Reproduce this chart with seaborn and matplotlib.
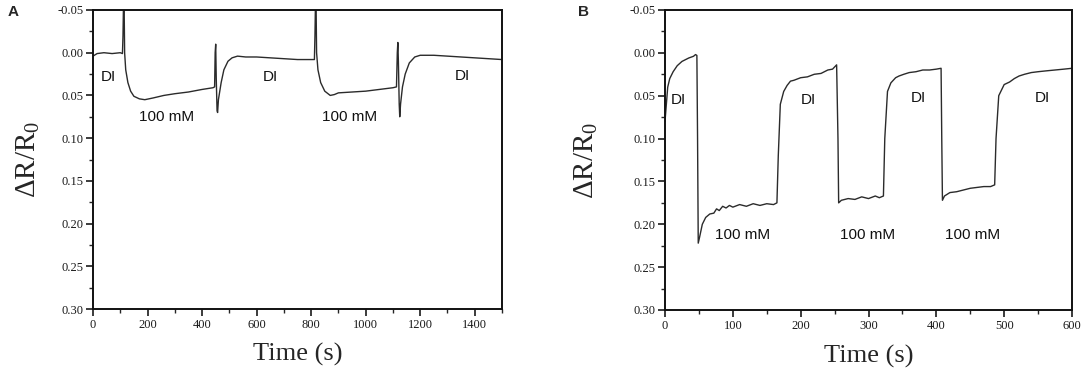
import numpy as np
import pandas as pd
import matplotlib
matplotlib.use("Agg")
import matplotlib.pyplot as plt
from matplotlib.ticker import MultipleLocator, FormatStrFormatter
import seaborn as sns

# ---------------- data ----------------
time_a = [0, 5, 15, 40, 70, 100, 108, 110, 112, 114, 116, 120, 128, 138, 150, 170, 190, 220,
          260, 300, 350, 400, 440, 446, 448, 450, 452, 455, 457, 460, 470, 480, 495, 510,
          530, 560, 600, 650, 700, 750, 800, 812, 814, 816, 818, 820, 825, 835, 850, 870,
          885, 900, 950, 1000, 1050, 1100, 1113, 1116, 1118, 1120, 1123, 1125, 1128, 1135,
          1145, 1160, 1180, 1200, 1250, 1300, 1350, 1400, 1450, 1500]
resp_a = [0.004, 0.003, 0.001, 0.000, 0.001, 0.000, 0.001, -0.020, -0.060, -0.060, 0.000,
          0.020, 0.035, 0.045, 0.051, 0.054, 0.055, 0.053, 0.050, 0.048, 0.046, 0.043, 0.041,
          0.040, 0.000, -0.010, 0.030, 0.068, 0.070, 0.055, 0.035, 0.020, 0.010, 0.006,
          0.004, 0.005, 0.005, 0.006, 0.007, 0.008, 0.008, 0.008, -0.020, -0.060, -0.060,
          0.000, 0.020, 0.035, 0.045, 0.050, 0.049, 0.047, 0.046, 0.045, 0.043, 0.041,
          0.040, 0.000, -0.012, 0.010, 0.060, 0.075, 0.060, 0.040, 0.025, 0.012, 0.005,
          0.003, 0.003, 0.004, 0.005, 0.006, 0.007, 0.008]

time_b = [0, 2, 4, 7, 12, 18, 25, 35, 42, 45, 47, 48, 49, 51, 55, 60, 66, 72, 76, 80, 85,
          90, 95, 100, 110, 120, 130, 140, 150, 160, 165, 167, 170, 175, 180, 185, 190, 200,
          210, 220, 230, 240, 247, 253, 255, 256, 260, 270, 280, 290, 300, 310, 316, 322,
          324, 328, 333, 340, 345, 352, 360, 370, 380, 390, 400, 407, 408, 409, 412, 420,
          430, 440, 450, 460, 470, 480, 486, 488, 492, 500, 508, 515, 522, 530, 540, 550,
          562, 575, 588, 600]
resp_b = [0.080, 0.060, 0.040, 0.030, 0.022, 0.015, 0.010, 0.006, 0.004, 0.002, 0.003,
          0.100, 0.222, 0.215, 0.200, 0.192, 0.188, 0.187, 0.182, 0.184, 0.179, 0.181,
          0.178, 0.180, 0.177, 0.179, 0.176, 0.178, 0.176, 0.177, 0.175, 0.120, 0.060,
          0.045, 0.038, 0.033, 0.032, 0.029, 0.028, 0.025, 0.024, 0.020, 0.019, 0.014,
          0.100, 0.175, 0.172, 0.170, 0.171, 0.168, 0.170, 0.167, 0.169, 0.167, 0.100,
          0.045, 0.035, 0.029, 0.027, 0.025, 0.023, 0.022, 0.020, 0.020, 0.019, 0.018,
          0.100, 0.172, 0.167, 0.163, 0.162, 0.160, 0.158, 0.157, 0.156, 0.156, 0.154,
          0.100, 0.050, 0.037, 0.034, 0.030, 0.027, 0.025, 0.023, 0.022, 0.021, 0.020,
          0.019, 0.018]

labels_a = ["DI", "100 mM", "DI", "100 mM", "DI"]
label_t_a = [55, 271, 649, 942, 1353]
label_v_a = [0.028, 0.075, 0.028, 0.075, 0.027]

labels_b = ["DI", "100 mM", "DI", "100 mM", "DI", "100 mM", "DI"]
label_t_b = [20, 115, 211, 299, 373, 453, 557]
label_v_b = [0.055, 0.212, 0.055, 0.212, 0.053, 0.212, 0.053]

xticks_a = [0, 200, 400, 600, 800, 1000, 1200, 1400]
xticks_b = [0, 100, 200, 300, 400, 500, 600]
yticks = [-0.05, 0.00, 0.05, 0.10, 0.15, 0.20, 0.25, 0.30]

# ---------------- style ----------------
sns.set_style("ticks")
plt.rcParams["font.family"] = ["Liberation Serif", "DejaVu Serif"]
plt.rcParams["mathtext.fontset"] = "custom"
plt.rcParams["mathtext.rm"] = "Liberation Serif"
plt.rcParams["mathtext.it"] = "Liberation Serif"

fig = plt.figure(figsize=(10.84, 3.74), dpi=100)
axA = fig.add_axes([93 / 1084, 1 - 309 / 374, 409 / 1084, 299 / 374])
axB = fig.add_axes([665 / 1084, 1 - 310 / 374, 407 / 1084, 300 / 374])

df_a = pd.DataFrame({"t": time_a, "r": resp_a})
df_b = pd.DataFrame({"t": time_b, "r": resp_b})

line_color = "#2b2b2b"
sns.lineplot(data=df_a, x="t", y="r", ax=axA, color=line_color, lw=1.0,
             estimator=None, sort=False)
sns.lineplot(data=df_b, x="t", y="r", ax=axB, color=line_color, lw=1.0,
             estimator=None, sort=False)


def style_axis(ax, xticks, xmax, xminor, ylab_x):
    ax.set_xlim(0, xmax)
    ax.set_ylim(0.30, -0.05)
    ax.set_xticks(xticks)
    ax.set_yticks(yticks)
    ax.xaxis.set_minor_locator(MultipleLocator(xminor))
    ax.yaxis.set_minor_locator(MultipleLocator(0.025))
    ax.yaxis.set_major_formatter(FormatStrFormatter("%.2f"))
    ax.tick_params(which="major", direction="out", length=5, width=1.2,
                   labelsize=9, pad=2, top=False, right=False, colors="#1a1a1a")
    ax.tick_params(which="minor", direction="out", length=3, width=1.0,
                   top=False, right=False)
    for s in ax.spines.values():
        s.set_linewidth(1.4)
        s.set_color("#111111")
    ax.set_xlabel("Time (s)", fontsize=19)
    ax.set_ylabel(r"$\Delta$R/R$_0$", fontsize=21)
    ax.xaxis.set_label_coords(0.5, -0.115)
    ax.yaxis.set_label_coords(ylab_x, 0.5)


style_axis(axA, xticks_a, 1500, 100, -0.125)
style_axis(axB, xticks_b, 600, 50, -0.16)

for txt, t, v in zip(labels_a, label_t_a, label_v_a):
    axA.text(t, v, txt, ha="center", va="center", fontsize=11,
             family="Liberation Sans", color="#111111")
for txt, t, v in zip(labels_b, label_t_b, label_v_b):
    axB.text(t, v, txt, ha="center", va="center", fontsize=11,
             family="Liberation Sans", color="#111111")

fig.text(8 / 1084, 1 - 16 / 374, "A", fontsize=11, fontweight="bold",
         family="Liberation Sans")
fig.text(578 / 1084, 1 - 16 / 374, "B", fontsize=11, fontweight="bold",
         family="Liberation Sans")

fig.savefig("out.png", dpi=100)
